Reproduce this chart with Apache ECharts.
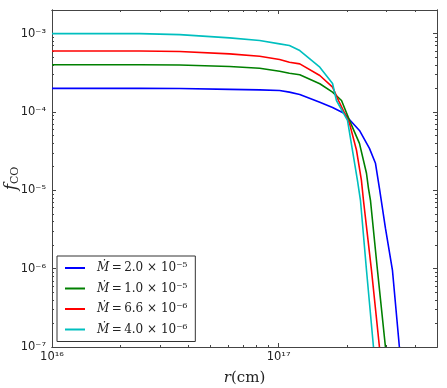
<!DOCTYPE html>
<html><head><meta charset="utf-8">
<script src="https://cdn.jsdelivr.net/npm/echarts@6/dist/echarts.min.js"></script>
<style>html,body{margin:0;padding:0;background:#fff}#c{width:447px;height:388px}</style>
</head><body><div id="c"></div>
<script>
// ---- data ----
const seriesNames = ['2.0', '1.0', '6.6', '4.0'];
const seriesExps = ['⁻⁵', '⁻⁵', '⁻⁶', '⁻⁶'];
const seriesColors = ['#0000ff', '#008000', '#ff0000', '#00bfbf'];

const rBlue = [1e16, 2.44e16, 3.66e16, 6.08e16, 8.25e16, 1.01e17, 1.116e17, 1.24e17, 1.52e17, 1.73e17, 1.953e17, 2.034e17, 2.274e17, 2.517e17, 2.676e17, 2.786e17, 2.961e17, 3.179e17, 3.412e17];
const fBlue = [2.0e-4, 2.0e-4, 1.99e-4, 1.94e-4, 1.91e-4, 1.88e-4, 1.79e-4, 1.67e-4, 1.33e-4, 1.14e-4, 9.57e-5, 8.26e-5, 5.81e-5, 3.43e-5, 2.21e-5, 1.06e-5, 3.28e-6, 9.6e-7, 1.0e-7];

const rGreen = [1e16, 2.44e16, 3.66e16, 6.08e16, 8.25e16, 1.01e17, 1.116e17, 1.24e17, 1.52e17, 1.73e17, 1.895e17, 2.055e17, 2.274e17, 2.442e17, 2.492e17, 2.543e17, 2.730e17, 2.961e17];
const fGreen = [4.0e-4, 4.0e-4, 3.98e-4, 3.80e-4, 3.61e-4, 3.31e-4, 3.12e-4, 2.98e-4, 2.29e-4, 1.79e-4, 1.40e-4, 7.8e-5, 3.97e-5, 1.65e-5, 1.06e-5, 7.46e-6, 9.6e-7, 1.0e-7];

const rRed = [1e16, 2.44e16, 3.66e16, 6.08e16, 8.25e16, 1.01e17, 1.116e17, 1.24e17, 1.52e17, 1.73e17, 1.838e17, 2.055e17, 2.207e17, 2.320e17, 2.368e17, 2.569e17, 2.786e17];
const fRed = [6.0e-4, 6.0e-4, 5.9e-4, 5.51e-4, 5.14e-4, 4.67e-4, 4.31e-4, 4.11e-4, 2.92e-4, 2.07e-4, 1.40e-4, 7.14e-5, 3.24e-5, 1.34e-5, 7.46e-6, 9.6e-7, 1.0e-7];

const rCyan = [1e16, 2.44e16, 3.66e16, 6.08e16, 8.25e16, 1.01e17, 1.116e17, 1.24e17, 1.52e17, 1.73e17, 1.80e17, 2.014e17, 2.118e17, 2.228e17, 2.297e17, 2.442e17, 2.622e17];
const fCyan = [1.0e-3, 1.0e-3, 9.7e-4, 8.81e-4, 8.15e-4, 7.39e-4, 7.03e-4, 6.07e-4, 3.72e-4, 2.31e-4, 1.40e-4, 7.8e-5, 3.24e-5, 1.34e-5, 7.46e-6, 9.6e-7, 1.0e-7];

const xMin = 1e16, xMax = 5e17;
const yMin = 1e-7, yMax = 2e-3;
const xMajorTicks = [1e16, 1e17];
const yMajorTicks = [1e-7, 1e-6, 1e-5, 1e-4, 1e-3];
const xMinorTicks = [2e16, 3e16, 4e16, 5e16, 6e16, 7e16, 8e16, 9e16, 2e17, 3e17, 4e17];
const yMinorTicks = [];
[1e-7, 1e-6, 1e-5, 1e-4, 1e-3].forEach(d => { for (let k = 2; k <= 9; k++) { const v = d * k; if (v < yMax) yMinorTicks.push(v); } });

// ---- chart ----
const rCols = [rBlue, rGreen, rRed, rCyan];
const fCols = [fBlue, fGreen, fRed, fCyan];
const SUP = { '-': '⁻', '0': '⁰', '1': '¹', '2': '²', '3': '³', '4': '⁴', '5': '⁵', '6': '⁶', '7': '⁷', '8': '⁸', '9': '⁹' };
const spine = { show: true, lineStyle: { color: '#444', width: 1 } };
const expLabel = v => { const e = Math.round(Math.log10(v)); return '10' + String(e).split('').map(c => SUP[c]).join(''); };
const labStyle = { fontFamily: 'DejaVu Sans', fontSize: 11.5, color: '#222' };
function mkX(pos, major, labels) {
  return {
    type: 'log', logBase: 10, min: xMin, max: xMax, position: pos,
    axisLine: spine, splitLine: { show: false },
    axisTick: { show: true, inside: true, length: major ? 4 : 2, customValues: major ? xMajorTicks : xMinorTicks, lineStyle: { color: '#444' } },
    axisLabel: labels ? Object.assign({ show: true, customValues: xMajorTicks, formatter: expLabel, margin: 4 }, labStyle) : { show: false },
    name: labels ? '{i|r}{n|(cm)}' : '', nameLocation: 'middle', nameGap: 24,
    nameTextStyle: { rich: { i: { fontFamily: 'DejaVu Serif', fontStyle: 'italic', fontSize: 15, color: '#222' }, n: { fontFamily: 'DejaVu Serif', fontSize: 15, color: '#222' } } }
  };
}
function mkY(pos, major, labels) {
  return {
    type: 'log', logBase: 10, min: yMin, max: yMax, position: pos,
    axisLine: spine, splitLine: { show: false },
    axisTick: { show: true, inside: true, length: major ? 4 : 2, customValues: major ? yMajorTicks : yMinorTicks, lineStyle: { color: '#444' } },
    axisLabel: labels ? Object.assign({ show: true, customValues: yMajorTicks, formatter: expLabel, margin: 6 }, labStyle) : { show: false },
    name: labels ? '{i|f}{sub|CO}' : '', nameLocation: 'middle', nameGap: 31, nameRotate: 90, nameMoveOverlap: false,
    nameTextStyle: { rich: { i: { fontFamily: 'DejaVu Serif', fontStyle: 'italic', fontSize: 17, color: '#222' }, sub: { fontFamily: 'DejaVu Serif', fontSize: 11, color: '#222', padding: [8, 0, 0, 0] } } }
  };
}
const chart = echarts.init(document.getElementById('c'), null, { renderer: 'canvas' });
chart.setOption({
  animation: false,
  backgroundColor: '#fff',
  grid: { left: 52, right: 10, top: 10, bottom: 41, containLabel: false, outerBoundsMode: 'none' },
  xAxis: [mkX('bottom', true, true), mkX('bottom', false, false), mkX('top', true, false), mkX('top', false, false)],
  yAxis: [mkY('left', true, true), mkY('left', false, false), mkY('right', true, false), mkY('right', false, false)],
  legend: {
    orient: 'vertical', left: 57, top: 256,
    padding: [5, 8, 5, 8], itemGap: 6.5, itemWidth: 20, itemHeight: 2, icon: 'rect',
    borderColor: '#333', borderWidth: 1, borderRadius: 0, backgroundColor: '#fff',
    data: seriesNames.map((n, i) => ({ name: 'M' + i, icon: 'rect', itemStyle: { color: seriesColors[i] } })),
    formatter: name => { const i = +name.slice(1); return '{m|Ṁ}{t|\u2009=\u2009' + seriesNames[i] + ' × 10' + seriesExps[i] + '}'; },
    textStyle: {
      padding: [0, 0, 0, 7], lineHeight: 14, height: 14,
      rich: {
        m: { fontFamily: 'DejaVu Serif', fontStyle: 'italic', fontSize: 12, color: '#222', lineHeight: 14 },
        t: { fontFamily: 'DejaVu Serif', fontSize: 12, color: '#222', lineHeight: 14 }
      }
    }
  },
  series: rCols.map((rc, i) => ({
    name: 'M' + i, type: 'line', xAxisIndex: 0, yAxisIndex: 0,
    symbol: 'none', showSymbol: false, smooth: false, clip: true,
    lineStyle: { color: seriesColors[i], width: 1.6 }, itemStyle: { color: seriesColors[i] },
    data: rc.map((r, j) => [r, fCols[i][j]])
  }))
});
</script></body></html>
